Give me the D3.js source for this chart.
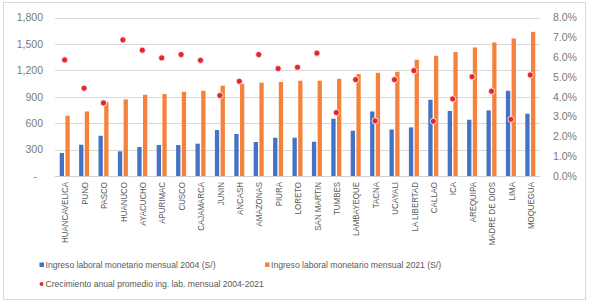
<!DOCTYPE html>
<html>
<head>
<meta charset="utf-8">
<script src="https://cdn.jsdelivr.net/npm/d3@7"></script>
<style>
html,body{margin:0;padding:0;background:#fff;}
svg{display:block;font-family:"Liberation Sans",Arial,sans-serif;}
</style>
</head>
<body>
<svg id="chart" width="589" height="303"></svg>
<script>
const regions = ["HUANCAVELICA","PUNO","PASCO","HUANUCO","AYACUCHO","APURIMAC","CUSCO","CAJAMARCA","JUNIN","ANCASH","AMAZONAS","PIURA","LORETO","SAN MARTIN","TUMBES","LAMBAYEQUE","TACNA","UCAYALI","LA LIBERTAD","CALLAO","ICA","AREQUIPA","MADRE DE DIOS","LIMA","MOQUEGUA"];
const ingreso2004 = [261,355,457,280,329,352,352,367,522,477,386,435,435,389,650,514,733,529,552,866,738,639,745,968,707];
const ingreso2021 = [684,733,840,870,923,931,957,968,1025,1048,1059,1067,1082,1082,1104,1158,1172,1184,1320,1365,1407,1460,1516,1562,1637];
const crecimiento = [5.86,4.43,3.69,6.87,6.35,5.96,6.13,5.84,4.06,4.78,6.13,5.42,5.49,6.20,3.20,4.86,2.78,4.86,5.32,2.76,3.89,5.01,4.28,2.86,5.10];
const leftTicks = [0,300,600,900,1200,1500,1800];
const rightTicks = [0,0.01,0.02,0.03,0.04,0.05,0.06,0.07,0.08];
const seriesNames = ["Ingreso laboral monetario mensual 2004 (S/)","Ingreso laboral monetario mensual 2021 (S/)","Crecimiento anual promedio ing. lab. mensual 2004-2021"];

const C_BLUE = "#4472c4", C_ORANGE = "#f4823c", C_RED = "#e8262a";
const svg = d3.select("#chart");

svg.append("rect").attr("x",3.5).attr("y",2.5).attr("width",582).attr("height",297)
  .attr("fill","#fff").attr("stroke","#d9d9d9").attr("stroke-width",1);

const L = 55, R = 540, T = 17.5, B = 176;
const x0 = d3.scaleBand().domain(regions).range([L,R]).paddingInner(0).paddingOuter(0);
const x1 = d3.scaleBand().domain(["a","b"]).range([x0.bandwidth()/2-5, x0.bandwidth()/2+5]).paddingInner(0.246).paddingOuter(0);
const y = d3.scaleLinear().domain([0,1800]).range([B,T]);
const y2 = d3.scaleLinear().domain([0,0.08]).range([B,T]);

// gridlines
svg.append("g").selectAll("line").data(leftTicks).join("line")
  .attr("x1",L).attr("x2",R)
  .attr("y1",d=>Math.round(y(d))+0.5).attr("y2",d=>Math.round(y(d))+0.5)
  .attr("stroke",d=>d===0?"#d0d0d0":"#d9d9d9").attr("stroke-width",1);

// left axis
const fmtL = d => d===0 ? "-" : d3.format(",")(d);
const gl = svg.append("g").attr("transform",`translate(${L},0)`)
  .call(d3.axisLeft(y).tickValues(leftTicks).tickFormat(fmtL).tickSize(0).tickPadding(12));
gl.select(".domain").remove();
gl.selectAll("text").attr("fill","#7a7a7a").attr("font-size","10.5px").attr("font-family","Liberation Sans, Arial, sans-serif");
gl.selectAll(".tick").filter(d=>d===0).select("text").attr("dx",-6);

// right axis
const gr = svg.append("g").attr("transform",`translate(${R},0)`)
  .call(d3.axisRight(y2).tickValues(rightTicks).tickFormat(d3.format(".1%")).tickSize(0).tickPadding(13));
gr.select(".domain").remove();
gr.selectAll("text").attr("fill","#7a7a7a").attr("font-size","10.5px").attr("font-family","Liberation Sans, Arial, sans-serif");

// bars
const g = svg.append("g");
const groups = g.selectAll("g").data(regions).join("g").attr("transform",d=>`translate(${x0(d)},0)`);
groups.append("rect").attr("x",x1("a")).attr("width",x1.bandwidth())
  .attr("y",(d,i)=>y(ingreso2004[i])).attr("height",(d,i)=>y(0)-y(ingreso2004[i])).attr("fill",C_BLUE);
groups.append("rect").attr("x",x1("b")).attr("width",x1.bandwidth())
  .attr("y",(d,i)=>y(ingreso2021[i])).attr("height",(d,i)=>y(0)-y(ingreso2021[i])).attr("fill",C_ORANGE);

// dots
svg.append("g").selectAll("circle").data(regions).join("circle")
  .attr("cx",d=>x0(d)+x0.bandwidth()/2).attr("cy",(d,i)=>y2(crecimiento[i]/100))
  .attr("r",3.1).attr("fill",C_RED).attr("stroke","#fff").attr("stroke-width",0.8);

// category labels
svg.append("g").selectAll("text").data(regions).join("text")
  .attr("transform",d=>`translate(${x0(d)+x0.bandwidth()/2+0.5},182) rotate(-90) scale(0.88,1)`)
  .attr("text-anchor","end").attr("dy","0.35em")
  .attr("font-size","9px").attr("fill","#595959").text(d=>d);

// legend
const lg = svg.append("g").attr("font-size","8.6px").attr("fill","#595959");
lg.append("rect").attr("x",39.5).attr("y",262.5).attr("width",4.5).attr("height",4.5).attr("fill",C_BLUE);
lg.append("text").attr("x",45.5).attr("y",265).attr("dy","0.35em").attr("fill","#595959").text(seriesNames[0]);
lg.append("rect").attr("x",265).attr("y",262.5).attr("width",4.5).attr("height",4.5).attr("fill",C_ORANGE);
lg.append("text").attr("x",271).attr("y",265).attr("dy","0.35em").attr("fill","#595959").text(seriesNames[1]);
lg.append("circle").attr("cx",41.5).attr("cy",284).attr("r",2).attr("fill",C_RED);
lg.append("text").attr("x",45.5).attr("y",284).attr("dy","0.35em").attr("fill","#595959").text(seriesNames[2]);
</script>
</body>
</html>
